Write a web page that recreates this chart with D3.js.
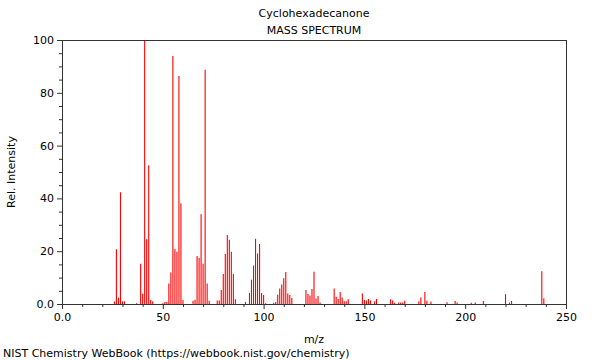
<!DOCTYPE html>
<html>
<head>
<meta charset="utf-8">
<script src="https://cdn.jsdelivr.net/npm/d3@7"></script>
<style>
  html, body { margin: 0; padding: 0; background: #fff; }
  svg { display: block; font-family: "DejaVu Sans", sans-serif; }
</style>
</head>
<body>
<svg id="chart" width="600" height="360"></svg>
<script>
const title = "Cyclohexadecanone";
const subtitle = "MASS SPECTRUM";
const xLabel = "m/z";
const yLabel = "Rel. Intensity";
const footer = "NIST Chemistry WebBook (https://webbook.nist.gov/chemistry)";

const mz = [26, 27, 28, 29, 30, 31, 37, 39, 40, 41, 42, 43, 44, 45, 50, 51, 52, 53, 54, 55, 56, 57, 58, 59, 60,
  65, 66, 67, 68, 69, 70, 71, 72, 73, 77, 78, 79, 80, 81, 82, 83, 84, 85, 86, 91, 93, 94, 95, 96, 97, 98, 99, 100, 101,
  105, 106, 107, 108, 109, 110, 111, 112, 113, 114, 121, 122, 123, 124, 125, 126, 127, 128,
  135, 136, 137, 138, 139, 140, 141, 142, 149, 150, 151, 152, 153, 155, 156, 163, 164, 165, 167, 168, 169, 170,
  177, 178, 180, 181, 183, 191, 195, 196, 203, 205, 209, 220, 222, 223, 238, 239];
const intensity = [0.9, 20.7, 2.4, 42.3, 1.0, 1.0, 0.3, 15.2, 3.9, 100, 24.5, 52.6, 1.5, 1.0, 0.3, 0.8, 0.8, 7.8, 11.9, 93.9, 20.8, 19.8, 86.4, 38.1, 1.5,
  1.2, 1.6, 18.2, 17.4, 34.0, 15.2, 88.7, 7.8, 1.2, 1.3, 1.3, 5.3, 11.4, 18.9, 26.1, 24.3, 19.8, 11.4, 1.8, 0.8, 4.2, 9.2, 14.6, 24.7, 19.1, 22.7, 4.2, 3.4, 0.3,
  0.5, 0.8, 3.5, 5.9, 7.4, 9.8, 12.1, 4.0, 3.4, 2.3, 5.3, 3.8, 3.2, 5.7, 12.2, 2.1, 3.0, 0.6,
  5.9, 2.7, 1.9, 4.5, 2.5, 1.0, 1.0, 1.8, 4.0, 1.5, 1.3, 1.9, 1.3, 1.0, 1.9, 1.8, 1.3, 0.5, 0.6, 0.6, 0.6, 1.2,
  1.0, 2.5, 4.5, 1.2, 0.9, 0.7, 1.1, 0.6, 0.5, 0.6, 1.1, 3.7, 0.6, 1.1, 12.4, 2.2];
const xTickLabels = ["0.0", "50", "100", "150", "200", "250"];
const yTickLabels = ["0.0", "20", "40", "60", "80", "100"];
const xMajor = [0, 50, 100, 150, 200, 250];
const yMajor = [0, 20, 40, 60, 80, 100];

const svg = d3.select("#chart");
const m = {left: 62, right: 34, top: 40, bottom: 56};
const W = 600, H = 360;
const x = d3.scaleLinear().domain([0, 250]).range([m.left, W - m.right]);
const y = d3.scaleLinear().domain([0, 100]).range([H - m.bottom, m.top]);
const axisColor = "#333";

// bars
svg.append("g").selectAll("line").data(mz.map((d, i) => [d, intensity[i]])).join("line")
  .attr("x1", d => x(d[0])).attr("x2", d => x(d[0]))
  .attr("y1", y(0)).attr("y2", d => y(d[1]))
  .attr("stroke", "#ff0000").attr("stroke-width", 1.1);

// x axis
const xAxis = d3.axisBottom(x).tickValues(xMajor).tickSize(5).tickPadding(4)
  .tickFormat((d, i) => xTickLabels[i]);
const gx = svg.append("g").attr("transform", `translate(0,${y(0)})`).call(xAxis);
const xMinorAxis = d3.axisBottom(x).tickValues(d3.range(0, 251, 10).filter(v => v % 50 !== 0)).tickSize(3).tickFormat("");
const gxm = svg.append("g").attr("transform", `translate(0,${y(0)})`).call(xMinorAxis);

// y axis
const yAxis = d3.axisLeft(y).tickValues(yMajor).tickSize(5).tickPadding(3)
  .tickFormat((d, i) => yTickLabels[i]);
const gy = svg.append("g").attr("transform", `translate(${x(0)},0)`).call(yAxis);
const yMinorAxis = d3.axisLeft(y).tickValues(d3.range(0, 101, 5).filter(v => v % 20 !== 0)).tickSize(3).tickFormat("");
const gym = svg.append("g").attr("transform", `translate(${x(0)},0)`).call(yMinorAxis);

[gx, gxm, gy, gym].forEach(g => {
  g.select(".domain").remove();
  g.selectAll("line").attr("stroke", axisColor);
  g.selectAll("text").attr("fill", "#000").style("font-size", "11px").style("font-family", "DejaVu Sans, sans-serif");
});

// frame
svg.append("rect").attr("x", x(0) + 0.5).attr("y", y(100) + 0.5)
  .attr("width", x(250) - x(0)).attr("height", y(0) - y(100))
  .attr("fill", "none").attr("stroke", axisColor).attr("stroke-width", 1);

// titles
const cx = (x(0) + x(250)) / 2;
svg.append("text").attr("x", cx).attr("y", 17).attr("text-anchor", "middle")
  .style("font-size", "11px").text(title);
svg.append("text").attr("x", cx).attr("y", 34).attr("text-anchor", "middle")
  .style("font-size", "11px").text(subtitle);
svg.append("text").attr("x", cx).attr("y", 343).attr("text-anchor", "middle")
  .style("font-size", "11px").text(xLabel);
svg.append("text").attr("transform", `translate(15,${(y(0) + y(100)) / 2}) rotate(-90)`)
  .attr("text-anchor", "middle").style("font-size", "11px").text(yLabel);
svg.append("text").attr("x", 3).attr("y", 357).style("font-size", "11px").text(footer);
</script>
</body>
</html>
